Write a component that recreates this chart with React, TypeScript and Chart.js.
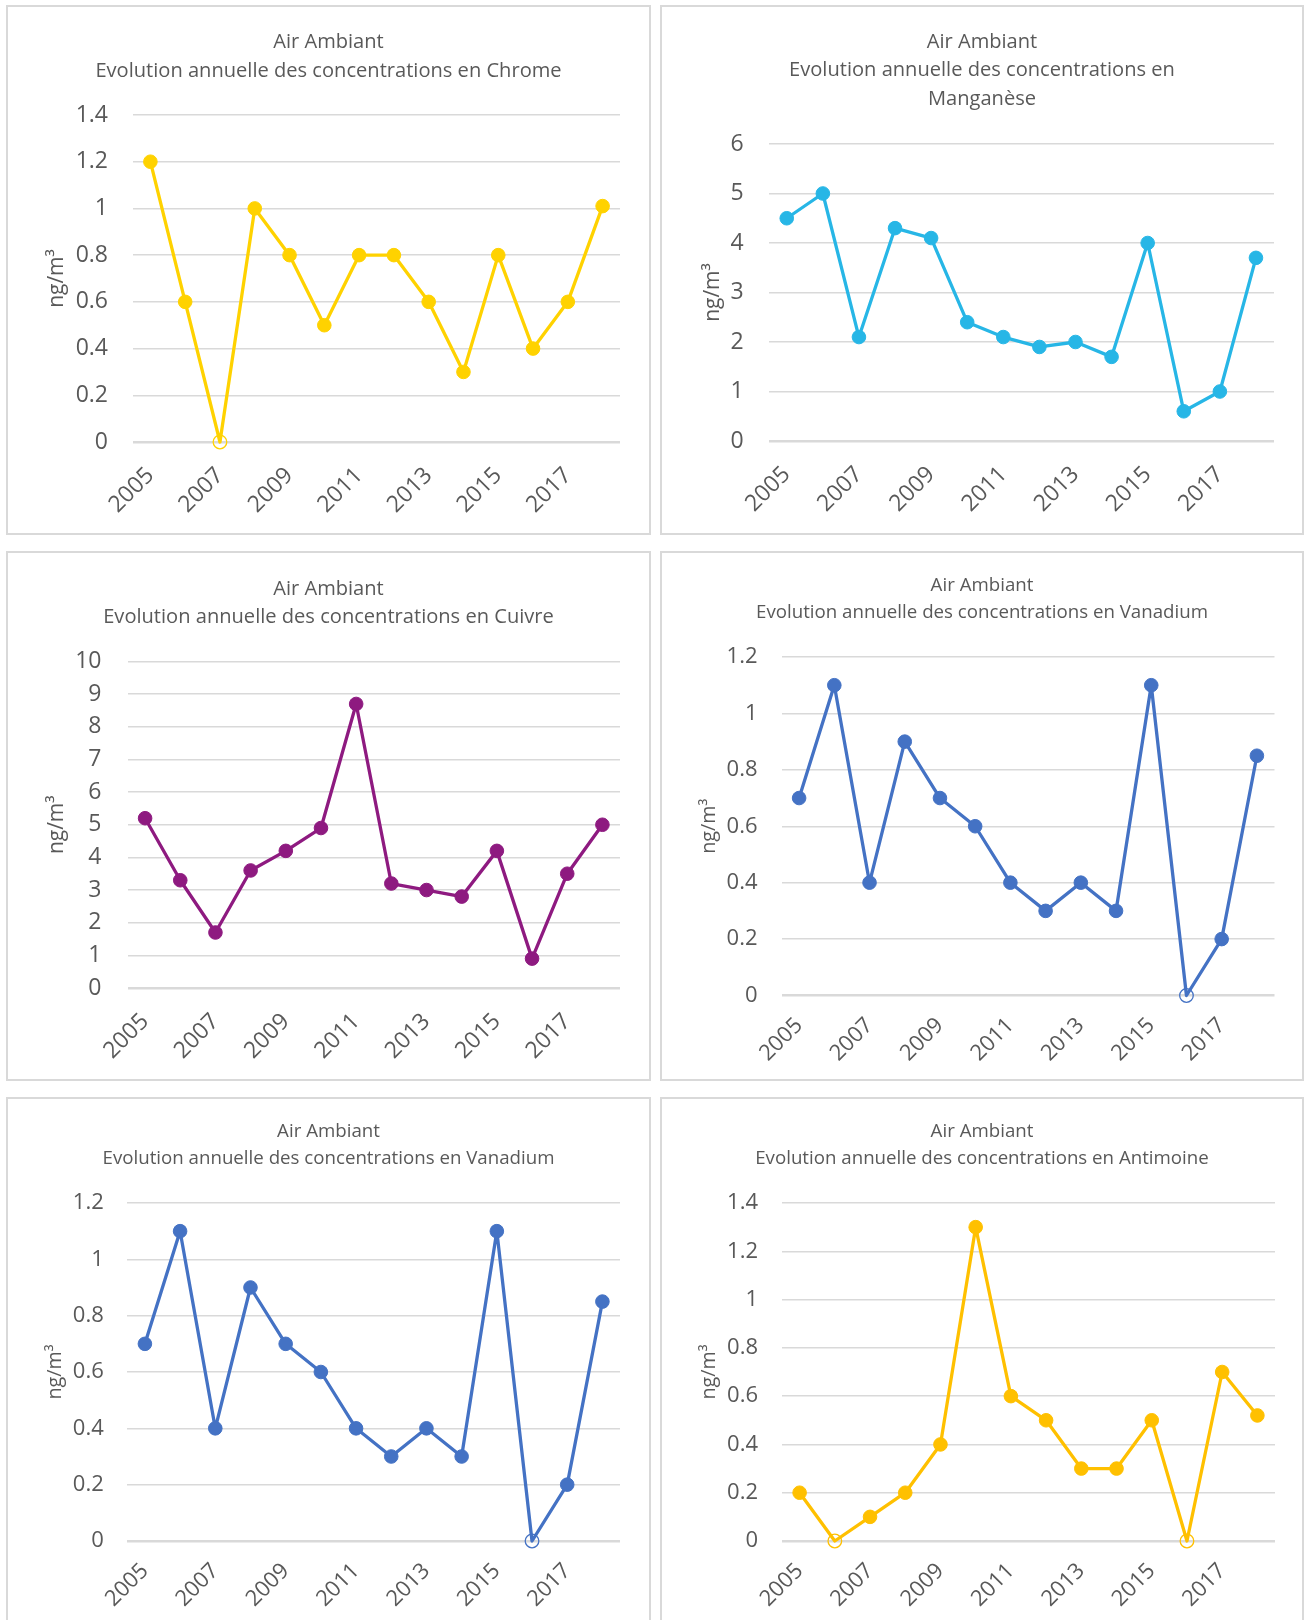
import { useEffect, useRef } from "react";
import { Chart, registerables } from "chart.js";

Chart.register(...registerables);

// ---------- DATA ----------
const years = ["2005", "2006", "2007", "2008", "2009", "2010", "2011", "2012", "2013", "2014", "2015", "2016", "2017", "2018"];

const chromeValues = [1.2, 0.6, 0, 1.0, 0.8, 0.5, 0.8, 0.8, 0.6, 0.3, 0.8, 0.4, 0.6, 1.01];
const manganeseValues = [4.5, 5.0, 2.1, 4.3, 4.1, 2.4, 2.1, 1.9, 2.0, 1.7, 4.0, 0.6, 1.0, 3.7];
const cuivreValues = [5.2, 3.3, 1.7, 3.6, 4.2, 4.9, 8.7, 3.2, 3.0, 2.8, 4.2, 0.9, 3.5, 5.0];
const vanadiumValues = [0.7, 1.1, 0.4, 0.9, 0.7, 0.6, 0.4, 0.3, 0.4, 0.3, 1.1, 0, 0.2, 0.85];
const antimoineValues = [0.2, 0, 0.1, 0.2, 0.4, 1.3, 0.6, 0.5, 0.3, 0.3, 0.5, 0, 0.7, 0.52];

const chromeTitle = ["Air Ambiant", "Evolution annuelle des concentrations en Chrome"];
const manganeseTitle = ["Air Ambiant", "Evolution annuelle des concentrations en", "Manganèse"];
const cuivreTitle = ["Air Ambiant", "Evolution annuelle des concentrations en Cuivre"];
const vanadiumTitle = ["Air Ambiant", "Evolution annuelle des concentrations en Vanadium"];
const antimoineTitle = ["Air Ambiant", "Evolution annuelle des concentrations en Antimoine"];

const unitLabel = "ng/m³";

// y-axis ranges (max, step)
const chromeAxis = [1.4, 0.2];
const manganeseAxis = [6, 1];
const cuivreAxis = [10, 1];
const vanadiumAxis = [1.2, 0.2];
const antimoineAxis = [1.4, 0.2];

// ---------- STYLE / LAYOUT ----------
const TEXT = "#595959";
const GRID = "#d9d9d9";
const FONT = "'Open Sans', 'Noto Sans', sans-serif";

type PanelCfg = {
  left: number; top: number; w: number; h: number; openBottom?: boolean;
  title: string[]; titleSize: number; titleFirst: number; titleGap: number;
  values: number[]; color: string; axis: number[];
  gridLeft: number; gridRight: number; plotTop: number; plotBottom: number;
  tickSize: number; tickPad: number; xPad: number; unitCenter: number; unitSize: number;
};

const panels: PanelCfg[] = [
  {
    left: 6, top: 5, w: 645, h: 530, title: chromeTitle, titleSize: 20.1, titleFirst: 37, titleGap: 29.5,
    values: chromeValues, color: "#FFD200", axis: chromeAxis,
    gridLeft: 127, gridRight: 614, plotTop: 110, plotBottom: 437,
    tickSize: 23, tickPad: 25, xPad: 20, unitCenter: 51, unitSize: 21,
  },
  {
    left: 660, top: 5, w: 644, h: 530, title: manganeseTitle, titleSize: 20.1, titleFirst: 37, titleGap: 28.7,
    values: manganeseValues, color: "#27B6E6", axis: manganeseAxis,
    gridLeft: 108.7, gridRight: 614, plotTop: 139, plotBottom: 436,
    tickSize: 23, tickPad: 25, xPad: 20, unitCenter: 53, unitSize: 21,
  },
  {
    left: 6, top: 551, w: 645, h: 530, title: cuivreTitle, titleSize: 20.1, titleFirst: 38, titleGap: 27.8,
    values: cuivreValues, color: "#8E1A80", axis: cuivreAxis,
    gridLeft: 121.5, gridRight: 614, plotTop: 110.5, plotBottom: 437,
    tickSize: 23, tickPad: 26, xPad: 20, unitCenter: 51, unitSize: 21,
  },
  {
    left: 660, top: 551, w: 644, h: 530, title: vanadiumTitle, titleSize: 18.7, titleFirst: 35, titleGap: 26.5,
    values: vanadiumValues, color: "#4472C4", axis: vanadiumAxis,
    gridLeft: 121.5, gridRight: 614.5, plotTop: 106, plotBottom: 444.5,
    tickSize: 22, tickPad: 24, xPad: 17, unitCenter: 49, unitSize: 19.7,
  },
  {
    left: 6, top: 1097, w: 645, h: 523, openBottom: true, title: vanadiumTitle, titleSize: 18.7, titleFirst: 35, titleGap: 26.5,
    values: vanadiumValues, color: "#4472C4", axis: vanadiumAxis,
    gridLeft: 121.3, gridRight: 614, plotTop: 106, plotBottom: 444,
    tickSize: 22, tickPad: 23.5, xPad: 17, unitCenter: 49, unitSize: 19.7,
  },
  {
    left: 660, top: 1097, w: 644, h: 523, openBottom: true, title: antimoineTitle, titleSize: 18.7, titleFirst: 35, titleGap: 26.5,
    values: antimoineValues, color: "#FFC000", axis: antimoineAxis,
    gridLeft: 122, gridRight: 615, plotTop: 106, plotBottom: 444,
    tickSize: 22, tickPad: 24, xPad: 17, unitCenter: 49, unitSize: 19.7,
  },
];

function Panel({ cfg }: { cfg: PanelCfg }) {
  const ref = useRef<HTMLCanvasElement | null>(null);

  useEffect(() => {
    if (!ref.current) return;
    const nLines = cfg.title.length;
    const titlePadTop = cfg.titleFirst - cfg.titleGap / 2;
    const titlePadBottom = cfg.plotTop - titlePadTop - nLines * cfg.titleGap;
    const unitLh = cfg.unitSize * 1.2;

    const chart = new Chart(ref.current, {
      type: "line",
      data: {
        labels: years,
        datasets: [
          {
            data: cfg.values,
            borderColor: cfg.color,
            backgroundColor: cfg.color,
            borderWidth: 3.3,
            borderJoinStyle: "round",
            borderCapStyle: "round",
            tension: 0,
            clip: false as any,
            pointRadius: 6.8,
            pointBorderWidth: cfg.values.map((v) => (v === 0 ? 1.3 : 1)),
            pointBackgroundColor: cfg.values.map((v) => (v === 0 ? "rgba(255,255,255,0)" : cfg.color)),
            pointBorderColor: cfg.color,
          },
        ],
      },
      options: {
        responsive: false,
        animation: false,
        devicePixelRatio: 1,
        layout: { padding: 0 },
        plugins: {
          legend: { display: false },
          tooltip: { enabled: false },
          title: {
            display: true,
            text: cfg.title,
            color: TEXT,
            font: { family: FONT, size: cfg.titleSize, weight: "normal", lineHeight: cfg.titleGap / cfg.titleSize },
            padding: { top: titlePadTop, bottom: titlePadBottom },
          },
        },
        scales: {
          x: {
            type: "category",
            offset: true,
            grid: { display: false, drawTicks: false },
            border: { display: false },
            ticks: {
              autoSkip: false,
              minRotation: 45,
              maxRotation: 45,
              padding: cfg.xPad,
              color: TEXT,
              font: { family: FONT, size: cfg.tickSize },
              callback: (_v: any, i: number) => (i % 2 === 0 ? years[i] : ""),
            },
            afterFit: (s: any) => {
              s.height = cfg.h - cfg.plotBottom;
            },
          },
          y: {
            min: 0,
            max: cfg.axis[0],
            grid: {
              color: GRID,
              drawTicks: false,
              lineWidth: (c: any) => (c.tick && c.tick.value === 0 ? 2.6 : 1.4),
            },
            border: { display: false },
            ticks: {
              stepSize: cfg.axis[1],
              padding: cfg.tickPad,
              color: TEXT,
              font: { family: FONT, size: cfg.tickSize },
              callback: (v: any) => String(Math.round(Number(v) * 10) / 10),
            },
            title: {
              display: true,
              text: unitLabel,
              color: TEXT,
              font: { family: FONT, size: cfg.unitSize, lineHeight: 1.2 },
              padding: { top: cfg.unitCenter - unitLh / 2, bottom: 0 },
            },
            afterFit: (s: any) => {
              s.width = cfg.gridLeft;
            },
          },
          // empty right-hand spacer so the chart title stays centred on the whole panel
          spacer: {
            type: "linear",
            position: "right",
            display: true,
            grid: { display: false, drawTicks: false },
            border: { display: false },
            ticks: { display: false },
            afterFit: (s: any) => {
              s.width = cfg.w - cfg.gridRight;
            },
          },
        },
      } as any,
    });
    return () => chart.destroy();
  }, [cfg]);

  return (
    <>
      <canvas
        ref={ref}
        width={cfg.w}
        height={cfg.h}
        style={{ position: "absolute", left: cfg.left, top: cfg.top, width: cfg.w, height: cfg.h }}
      />
      <div
        style={{
          position: "absolute",
          left: cfg.left,
          top: cfg.top,
          width: cfg.w,
          height: cfg.h,
          boxSizing: "border-box",
          border: `2px solid ${GRID}`,
          borderBottom: cfg.openBottom ? "none" : `2px solid ${GRID}`,
          pointerEvents: "none",
        }}
      />
    </>
  );
}

export default function App() {
  return (
    <div style={{ position: "absolute", left: 0, top: 0, width: 1306, height: 1620, overflow: "hidden", background: "#fff" }}>
      {panels.map((p, i) => (
        <Panel key={i} cfg={p} />
      ))}
    </div>
  );
}
